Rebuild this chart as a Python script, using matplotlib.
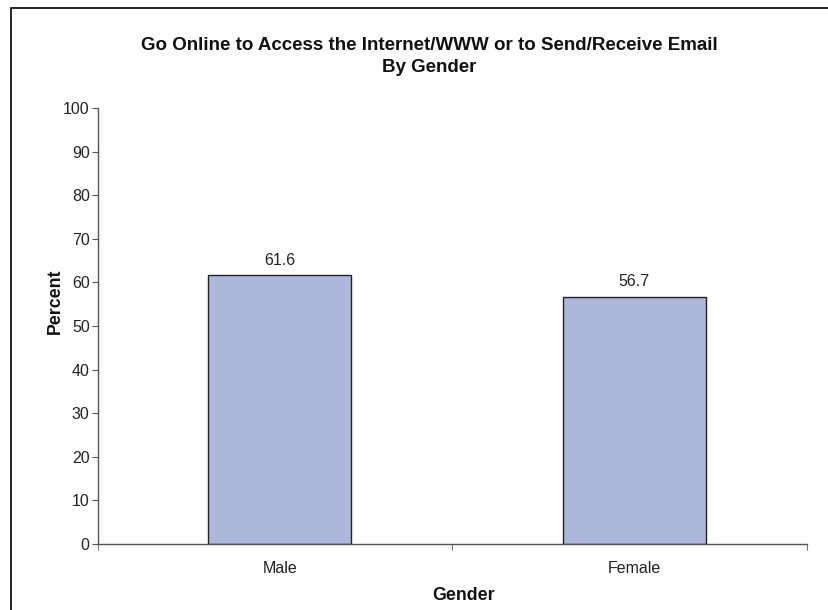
import matplotlib
matplotlib.use("Agg")
import matplotlib.pyplot as plt
from matplotlib.patches import Rectangle

categories = ["Male", "Female"]
percent = [61.6, 56.7]
y_ticks = list(range(0, 101, 10))

plt.rcParams['font.family'] = ['Liberation Sans', 'DejaVu Sans']

W, H = 829, 610
fig = plt.figure(figsize=(W / 100, H / 100), dpi=100, facecolor='white')

# outer frame (runs off the right and bottom edge like the source)
fig.patches.append(Rectangle((11 / W, -0.1), 1.2, 1 - 7.5 / H + 0.1, transform=fig.transFigure,
                             fill=False, edgecolor='black', linewidth=1.2))

ax = fig.add_axes([98 / W, 1 - 544 / H, (807 - 98) / W, (544 - 108) / H])

# bars sit a few pixels right of the category centres in the source
shift = 0.0127
x = range(len(categories))
bars = ax.bar(x, percent, width=0.403, color='#adb7db', edgecolor='#222222', linewidth=1.0)
for b, v in zip(bars, percent):
    ax.text(b.get_x() + b.get_width() / 2, v + 3.5, f"{v:.1f}", ha='center', va='center',
            fontsize=11.5, color='#222222')

ax.set_xlim(-0.5 - shift, len(categories) - 0.5 - shift)
ax.set_ylim(0, 100)
ax.set_yticks(y_ticks)
ax.set_xticks(x)
ax.set_xticklabels(categories, fontsize=11.5, color='#222222')
ax.set_xticks([i - 0.5 - shift for i in range(len(categories) + 1)], minor=True)
ax.tick_params(axis='x', which='major', length=0, pad=12)
ax.tick_params(axis='x', which='minor', length=4, direction='out', color='#555555')
ax.tick_params(axis='y', length=4, direction='out', color='#555555', labelsize=11.5,
               labelcolor='#222222', pad=2)

for s in ['top', 'right']:
    ax.spines[s].set_visible(False)
for s in ['left', 'bottom']:
    ax.spines[s].set_color('#555555')
    ax.spines[s].set_linewidth(1.0)

fig.text(55 / W, 1 - 301 / H, "Percent", rotation=90, ha='center', va='center',
         fontsize=12.8, fontweight='bold', color='#111111')
fig.text(464 / W, 1 - 595 / H, "Gender", ha='center', va='center',
         fontsize=12.8, fontweight='bold', color='#111111')

fig.text(429 / W, 1 - 45 / H, "Go Online to Access the Internet/WWW or to Send/Receive Email",
         ha='center', va='center', fontsize=13.5, fontweight='bold', color='#111111')
fig.text(429 / W, 1 - 68 / H, "By Gender", ha='center', va='center', fontsize=13.5,
         fontweight='bold', color='#111111')

fig.savefig("out.png", dpi=100, facecolor='white')
